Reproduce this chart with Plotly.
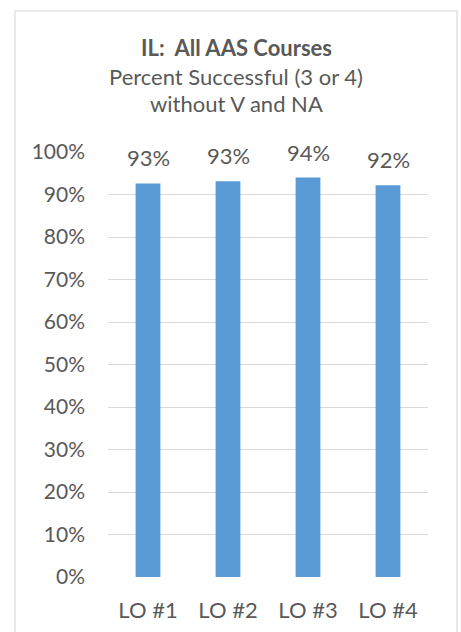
import plotly.graph_objects as go

categories = ["LO #1", "LO #2", "LO #3", "LO #4"]
values = [0.926, 0.931, 0.940, 0.922]
labels = ["93%", "93%", "94%", "92%"]
tick_vals = [i / 10 for i in range(11)]
tick_text = [f"{i*10}%" for i in range(11)]

FONT = "Lato"
TXT = "#595959"

W, H = 461, 632
L, R, T, B = 108, 428, 152, 577
pw, ph = R - L, B - T
def px(x): return (x - L) / pw
def py(y): return (B - y) / ph

fig = go.Figure()
fig.add_trace(go.Bar(x=categories, y=values, marker=dict(color="#5B9BD5", line=dict(width=0)),
                     hoverinfo="skip"))

for c, v, t in zip(categories, values, labels):
    fig.add_annotation(x=c, y=v, xref="x", yref="y", text=t, showarrow=False,
                       yanchor="bottom", yshift=10, font=dict(family=FONT, size=22, color=TXT))

fig.add_shape(type="rect", xref="paper", yref="paper", x0=px(15), x1=px(457), y0=py(700), y1=py(11),
              line=dict(color="#D9D9D9", width=1.2), fillcolor="rgba(0,0,0,0)", layer="below")

title_lines = [("<b>IL:  All AAS Courses</b>", 47), ("Percent Successful (3 or 4)", 76), ("without V and NA", 104)]
for txt, yy in title_lines:
    fig.add_annotation(x=px(236), y=py(yy), xref="paper", yref="paper", text=txt, showarrow=False,
                       xanchor="center", yanchor="middle", font=dict(family=FONT, size=22, color=TXT))

fig.update_layout(
    width=W, height=H, margin=dict(l=L, r=W - R, t=T, b=H - B, autoexpand=False),
    paper_bgcolor="white", plot_bgcolor="white", bargap=0.69, showlegend=False,
    font=dict(family=FONT, color=TXT, size=21),
)
fig.update_yaxes(range=[0, 1], tickvals=tick_vals, ticktext=tick_text, showgrid=True,
                 gridcolor="#D9D9D9", gridwidth=1.2, zeroline=False, showline=False, automargin=False,
                 ticks="", ticklabelstandoff=22, tickfont=dict(family=FONT, size=21, color=TXT))
fig.update_xaxes(showgrid=False, showline=False, zeroline=False, ticks="", automargin=False,
                 ticklabelstandoff=18, tickfont=dict(family=FONT, size=22, color=TXT))

fig.write_html("out.html", config={"displayModeBar": False},
               post_script="document.body.style.margin='0';document.body.style.overflow='hidden';")
